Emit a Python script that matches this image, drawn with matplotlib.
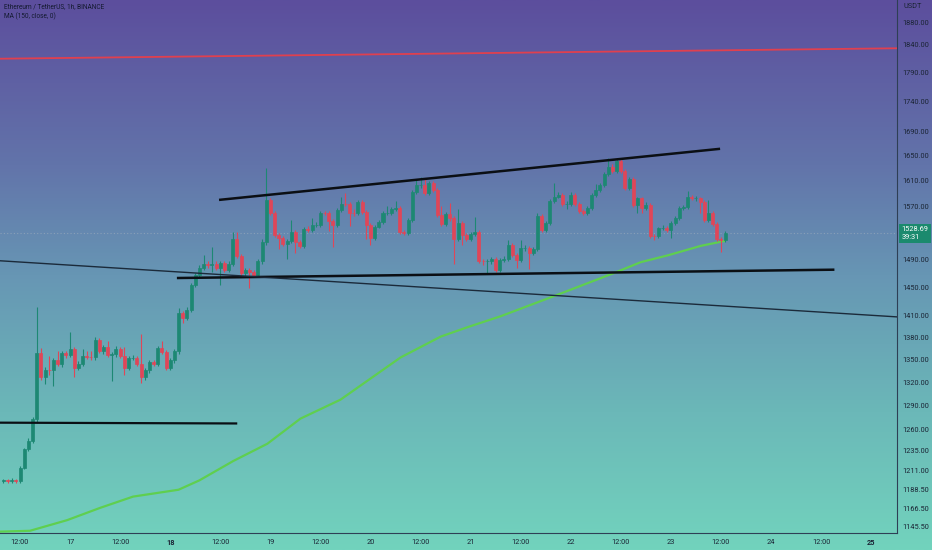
import numpy as np
import matplotlib
matplotlib.use("Agg")
import matplotlib.pyplot as plt
from matplotlib.colors import LinearSegmentedColormap

plt.rcParams['font.family'] = ['Roboto', 'DejaVu Sans']

# hours counted from 16 12:00 (1h candles)
first_hour = -4
first_open = 1198
closes = [
    1199, 1198, 1199, 1198,
    1214, 1236, 1246, 1273, 1359, 1327, 1337, 1336, 1349, 1345, 1359, 1356,
    1364, 1339, 1345, 1355, 1354, 1353, 1376, 1362, 1367, 1356, 1357, 1364,
    1355, 1339, 1352, 1352, 1345, 1327, 1336, 1347, 1345, 1366, 1360, 1339,
    1349, 1361, 1413, 1407, 1418, 1453, 1467, 1478, 1484, 1482, 1484, 1478,
    1485, 1474, 1484, 1520, 1495, 1470, 1474, 1471, 1468, 1487, 1515, 1580,
    1560, 1526, 1522, 1513, 1517, 1530, 1516, 1510, 1535, 1534, 1542, 1542,
    1560, 1559, 1547, 1541, 1564, 1574, 1573, 1560, 1559, 1576, 1561, 1542,
    1522, 1539, 1546, 1560, 1560, 1566, 1567, 1531, 1529, 1549, 1592, 1603,
    1603, 1590, 1606, 1595, 1556, 1543, 1558, 1552, 1520, 1545, 1526, 1520,
    1528, 1530, 1488, 1487, 1487, 1491, 1474, 1489, 1491, 1511, 1496, 1489,
    1507, 1507, 1500, 1506, 1555, 1534, 1545, 1578, 1585, 1588, 1574, 1574,
    1588, 1574, 1562, 1560, 1567, 1588, 1595, 1603, 1621, 1631, 1625, 1641,
    1625, 1598, 1612, 1572, 1582, 1567, 1572, 1525, 1524, 1536, 1537, 1534,
    1545, 1552, 1567, 1569, 1585, 1582, 1582, 1577, 1549, 1560, 1543, 1520,
    1519, 1528.69,
]
highs = [
    1201, 1201, 1202, 1201,
    1216, 1238, 1250, 1276, 1422, 1366, 1340, 1355, 1352, 1362, 1362, 1362,
    1388, 1367, 1348, 1365, 1362, 1362, 1380, 1379, 1370, 1375, 1360, 1368,
    1367, 1367, 1355, 1356, 1355, 1385, 1339, 1350, 1350, 1369, 1375, 1363,
    1352, 1364, 1420, 1416, 1422, 1456, 1470, 1482, 1497, 1488, 1508, 1487,
    1488, 1488, 1487, 1530, 1530, 1498, 1477, 1477, 1474, 1490, 1520, 1630,
    1583, 1563, 1529, 1525, 1520, 1549, 1533, 1519, 1538, 1540, 1552, 1546,
    1563, 1563, 1562, 1550, 1567, 1585, 1590, 1576, 1566, 1580, 1580, 1564,
    1545, 1542, 1549, 1563, 1570, 1569, 1578, 1570, 1534, 1552, 1595, 1611,
    1616, 1612, 1609, 1609, 1598, 1570, 1561, 1575, 1555, 1565, 1548, 1529,
    1531, 1553, 1533, 1491, 1490, 1494, 1494, 1492, 1495, 1518, 1514, 1499,
    1518, 1511, 1510, 1509, 1560, 1558, 1548, 1581, 1606, 1592, 1591, 1578,
    1592, 1591, 1577, 1565, 1570, 1591, 1605, 1607, 1624, 1646, 1636, 1645,
    1644, 1628, 1615, 1615, 1585, 1585, 1576, 1575, 1528, 1539, 1541, 1540,
    1548, 1555, 1570, 1572, 1593, 1588, 1586, 1585, 1580, 1580, 1563, 1546,
    1523, 1532,
]
lows = [
    1196, 1196, 1196, 1196,
    1196, 1212, 1234, 1244, 1270, 1324, 1318, 1330, 1315, 1342, 1340, 1352,
    1353, 1327, 1336, 1342, 1351, 1350, 1350, 1359, 1358, 1353, 1322, 1354,
    1352, 1330, 1336, 1349, 1342, 1320, 1324, 1333, 1342, 1342, 1357, 1336,
    1336, 1346, 1358, 1400, 1404, 1415, 1450, 1464, 1475, 1478, 1471, 1475,
    1453, 1471, 1471, 1481, 1492, 1467, 1466, 1449, 1465, 1465, 1484, 1512,
    1557, 1523, 1506, 1510, 1491, 1514, 1499, 1507, 1507, 1531, 1531, 1538,
    1539, 1556, 1532, 1508, 1538, 1561, 1570, 1540, 1555, 1556, 1558, 1520,
    1511, 1519, 1536, 1543, 1556, 1557, 1563, 1528, 1526, 1526, 1546, 1589,
    1598, 1587, 1587, 1592, 1553, 1540, 1540, 1548, 1484, 1517, 1512, 1517,
    1517, 1525, 1485, 1482, 1470, 1484, 1471, 1471, 1486, 1488, 1493, 1477,
    1486, 1503, 1476, 1497, 1503, 1531, 1531, 1542, 1575, 1582, 1570, 1565,
    1571, 1571, 1559, 1556, 1557, 1564, 1585, 1592, 1600, 1618, 1622, 1622,
    1622, 1595, 1595, 1569, 1560, 1560, 1564, 1522, 1518, 1521, 1533, 1531,
    1522, 1542, 1549, 1564, 1566, 1579, 1578, 1560, 1546, 1546, 1540, 1517,
    1501, 1516,
]

# MA(150)
ma_hours = [-5, 2.4, 11.3, 19.2, 27.1, 35.3, 38, 43, 51.1, 59.3, 67.2, 76.8,
            91.2, 100.8, 107.3, 115.2, 127.9, 142.3, 148.8, 155.3, 163.2, 168.7]
ma_values = [1140, 1141, 1153, 1167, 1180, 1186, 1188, 1199, 1222, 1243, 1274, 1298,
             1353, 1381, 1394, 1409, 1437, 1470, 1486, 1496, 1510, 1517]

# drawn lines: (hour, price) pairs
red_line = [(-6, 1815), (212, 1834)]
channel_top = [(48, 1580), (167.5, 1661)]
channel_bottom = [(37.9, 1463), (194.9, 1475)]
falling_line = [(-4.8, 1488), (210.5, 1408)]
old_level = [(-6, 1269), (51.8, 1268)]

last_price = 1528.69
countdown = "39:31"

y_ticks = [1145.5, 1166.5, 1188.5, 1211, 1235, 1260, 1290, 1320, 1350, 1380, 1410,
           1450, 1490, 1570, 1610, 1650, 1690, 1740, 1790, 1840, 1880]
x_tick_hours = list(range(0, 205, 12))
x_tick_labels = ['12:00', '17', '12:00', '18', '12:00', '19', '12:00', '20', '12:00',
                 '21', '12:00', '22', '12:00', '23', '12:00', '24', '12:00', '25']

W, H = 932, 550
fig = plt.figure(figsize=(W / 100, H / 100), dpi=100)

# background gradient
bg = fig.add_axes([0, 0, 1, 1], zorder=0)
cmap = LinearSegmentedColormap.from_list('bg', [
    (0.0, '#5c4e9d'), (0.3, '#6274aa'), (0.5, '#6796b4'),
    (0.75, '#6bb8b8'), (1.0, '#72d3bd')])
bg.imshow(np.linspace(0, 1, 256).reshape(-1, 1), aspect='auto', cmap=cmap,
          extent=[0, 1, 0, 1], origin='upper')
bg.axis('off')

ax = fig.add_axes([0, 17 / H, 897 / W, 1 - 17 / H], zorder=1)
ax.set_facecolor('none')
ax.set_yscale('log')
ax.set_xlim(-4.8, 210.2)
ax.set_ylim(1138.5, 1923)

hours = np.arange(first_hour, first_hour + len(closes))
opens = [first_open] + closes[:-1]
green, red = '#1d8873', '#df4658'
cols = [green if c >= o else red for o, c in zip(opens, closes)]

ax.axhline(last_price, color='#8aa0b8', lw=0.8, ls=(0, (1, 2)), zorder=1)
ax.plot(ma_hours, ma_values, color='#5fcf4f', lw=1.6, zorder=2)
ax.vlines(hours, lows, highs, colors=cols, lw=0.8, zorder=3)
ax.bar(hours, np.array(closes) - np.array(opens), bottom=opens, width=0.72,
       color=cols, edgecolor=cols, linewidth=0.5, zorder=4)

for pts, lw, c in [(red_line, 1.3, '#e0404f'), (channel_top, 1.8, '#0b0f14'),
                   (channel_bottom, 1.8, '#0b0f14'), (falling_line, 1.0, '#1b2a3a'),
                   (old_level, 1.6, '#0b0f14')]:
    xs, ys = zip(*pts)
    ax.plot(xs, ys, color=c, lw=lw, zorder=5)

ax.yaxis.tick_right()
ax.set_yticks(y_ticks)
ax.set_yticklabels(['%.2f' % v for v in y_ticks])
ax.yaxis.set_minor_locator(matplotlib.ticker.NullLocator())
ax.set_xticks(x_tick_hours)
ax.set_xticklabels(x_tick_labels)
for lbl in ax.get_xticklabels():
    if lbl.get_text() in ('18', '25'):
        lbl.set_fontweight('bold')
ax.tick_params(axis='y', length=0, pad=4, labelsize=5.3, labelcolor='#1b2535')
ax.tick_params(axis='x', length=0, pad=4, labelsize=5.3, labelcolor='#1b2535')
for s in ('top', 'left'):
    ax.spines[s].set_visible(False)
for s in ('right', 'bottom'):
    ax.spines[s].set_color('#2e3f55')
    ax.spines[s].set_linewidth(0.8)

# price label on the axis
ax.annotate(f"{last_price:.2f}\n{countdown}", xy=(1, last_price),
            xycoords=('axes fraction', 'data'), xytext=(3, 0),
            textcoords='offset points', va='center', ha='left', fontsize=5.3,
            color='white', linespacing=1.1,
            bbox=dict(boxstyle='square,pad=0.35', fc='#1b8a6e', ec='none'))

fig.text(904 / W, 1 - 7 / H, 'USDT', fontsize=5.3, color='#1b2535', va='center')
fig.text(4 / W, 1 - 7 / H, 'Ethereum / TetherUS, 1h, BINANCE', fontsize=4.7,
         color='#141a30', va='center')
fig.text(4 / W, 1 - 16 / H, 'MA (150, close, 0)', fontsize=4.7,
         color='#141a30', va='center')

fig.savefig('out.png', dpi=100)
